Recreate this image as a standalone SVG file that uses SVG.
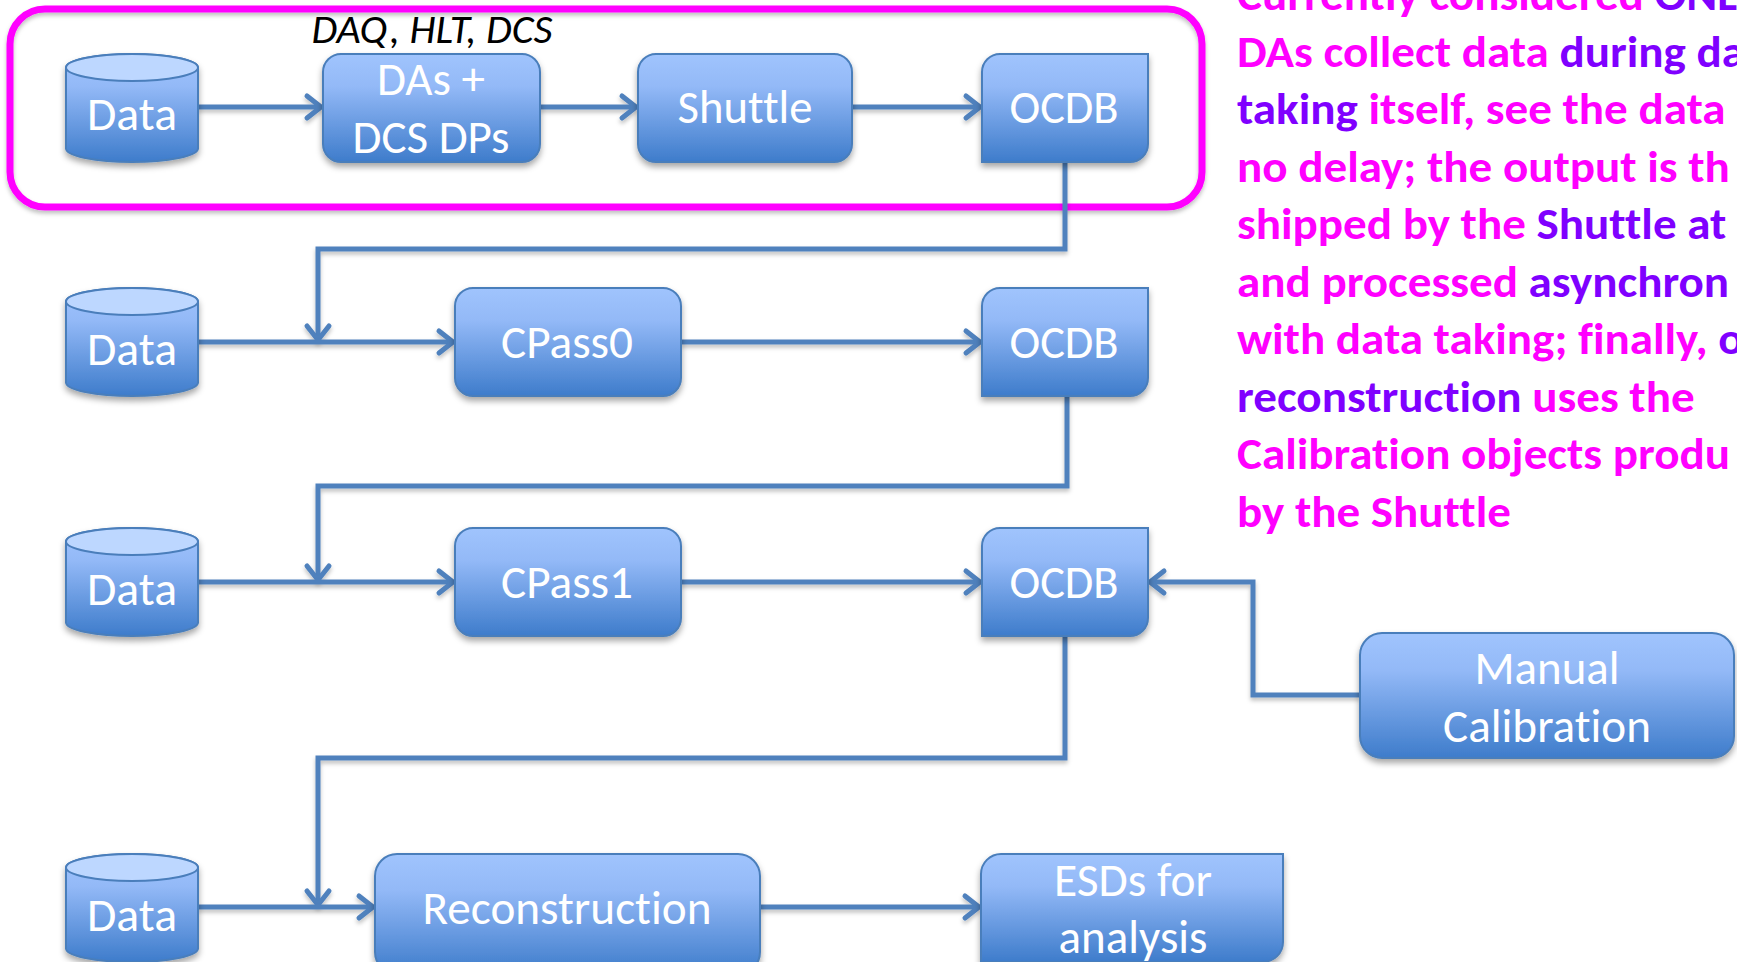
<svg xmlns="http://www.w3.org/2000/svg" width="1737" height="962" viewBox="0 0 1737 962">
<style>
.box{fill:url(#g);stroke:#4A7EBB;stroke-width:2;filter:url(#sh)}
.cap{fill:#BDD7FF;stroke:#4A7EBB;stroke-width:2}
.lbl{font-family:Carlito,Lato,"Liberation Sans",sans-serif;font-size:47px;fill:#fff;text-anchor:middle;font-variant-ligatures:none}
.con{fill:none;stroke:#4F81BD;stroke-width:5;filter:url(#sl)}
.arr{marker-end:url(#ah)}
.note{font-family:Carlito,Lato,"Liberation Sans",sans-serif;font-size:44px;font-weight:bold;font-variant-ligatures:none}
.m{fill:#FF00FF}
.p{fill:#7F00FF}
</style>
<defs>
<linearGradient id="g" x1="0" y1="0" x2="0" y2="1">
<stop offset="0" stop-color="#A0C4FD"/>
<stop offset="0.3" stop-color="#93B9F7"/>
<stop offset="1" stop-color="#3E7CCB"/>
</linearGradient>
<filter id="sh" x="-10%" y="-10%" width="120%" height="130%">
<feDropShadow dx="0" dy="4" stdDeviation="3" flood-color="#000" flood-opacity="0.35"/>
</filter>
<filter id="sl" filterUnits="userSpaceOnUse" x="0" y="0" width="1737" height="962">
<feDropShadow dx="0" dy="3" stdDeviation="2" flood-color="#000" flood-opacity="0.25"/>
</filter>
<marker id="ah" markerUnits="userSpaceOnUse" viewBox="-20 -16 26 32" markerWidth="26" markerHeight="32" refX="0" refY="0" orient="auto">
<path d="M-14,-11 L0,0 L-14,11" fill="none" stroke="#4F81BD" stroke-width="5" stroke-linecap="round" stroke-linejoin="round"/>
</marker>
</defs>

<rect id="frame" x="10" y="9" width="1192" height="198" rx="35" fill="none" stroke="#FF00FF" stroke-width="7" filter="url(#sl)"/>
<text id="daq" x="432" y="43" font-family="Carlito,Lato,'Liberation Sans',sans-serif" font-size="41" font-style="italic" fill="#000" text-anchor="middle" textLength="241" lengthAdjust="spacingAndGlyphs">DAQ, HLT, DCS</text>

<g id="connectors">
<path class="con arr" d="M198,107 H321"/>
<path class="con arr" d="M540,107 H636"/>
<path class="con arr" d="M852,107 H980"/>
<path class="con arr" d="M1065,162 V249 H318 V340"/>
<path class="con arr" d="M198,342 H453"/>
<path class="con arr" d="M681,342 H980"/>
<path class="con arr" d="M1067,396 V486 H318 V580"/>
<path class="con arr" d="M198,582 H453"/>
<path class="con arr" d="M681,582 H980"/>
<path class="con arr" d="M1360,695 H1253 V582 H1150"/>
<path class="con arr" d="M1065,636 V758 H318 V905"/>
<path class="con arr" d="M198,907 H373"/>
<path class="con arr" d="M760,907 H979"/>
</g>

<g id="data1">
<path class="box" d="M66,67.5 A66,13.5 0 0 1 198,67.5 V148.5 A66,13.5 0 0 1 66,148.5 Z"/>
<ellipse class="cap" cx="132" cy="67.5" rx="66" ry="13.5"/>
<text class="lbl" x="132" y="130" textLength="90" lengthAdjust="spacingAndGlyphs">Data</text>
</g>
<g id="das">
<rect class="box" x="323" y="54" width="217" height="108" rx="18"/>
<text class="lbl" x="431" y="95" textLength="108" lengthAdjust="spacingAndGlyphs">DAs +</text>
<text class="lbl" x="431" y="153" textLength="157" lengthAdjust="spacingAndGlyphs">DCS DPs</text>
</g>
<g id="shuttle">
<rect class="box" x="638" y="54" width="214" height="108" rx="18"/>
<text class="lbl" x="745" y="123" textLength="135" lengthAdjust="spacingAndGlyphs">Shuttle</text>
</g>
<g id="ocdb1">
<path class="box" d="M1000,54 H1148 V144 A18,18 0 0 1 1130,162 H982 V72 A18,18 0 0 1 1000,54 Z"/>
<text class="lbl" x="1064" y="123" textLength="109" lengthAdjust="spacingAndGlyphs">OCDB</text>
</g>

<g id="data2">
<path class="box" d="M66,301.5 A66,13.5 0 0 1 198,301.5 V382.5 A66,13.5 0 0 1 66,382.5 Z"/>
<ellipse class="cap" cx="132" cy="301.5" rx="66" ry="13.5"/>
<text class="lbl" x="132" y="365" textLength="90" lengthAdjust="spacingAndGlyphs">Data</text>
</g>
<g id="cpass0">
<rect class="box" x="455" y="288" width="226" height="108" rx="18"/>
<text class="lbl" x="567" y="358" textLength="132" lengthAdjust="spacingAndGlyphs">CPass0</text>
</g>
<g id="ocdb2">
<path class="box" d="M1000,288 H1148 V378 A18,18 0 0 1 1130,396 H982 V306 A18,18 0 0 1 1000,288 Z"/>
<text class="lbl" x="1064" y="358" textLength="109" lengthAdjust="spacingAndGlyphs">OCDB</text>
</g>

<g id="data3">
<path class="box" d="M66,541.5 A66,13.5 0 0 1 198,541.5 V622.5 A66,13.5 0 0 1 66,622.5 Z"/>
<ellipse class="cap" cx="132" cy="541.5" rx="66" ry="13.5"/>
<text class="lbl" x="132" y="605" textLength="90" lengthAdjust="spacingAndGlyphs">Data</text>
</g>
<g id="cpass1">
<rect class="box" x="455" y="528" width="226" height="108" rx="18"/>
<text class="lbl" x="567" y="598" textLength="132" lengthAdjust="spacingAndGlyphs">CPass1</text>
</g>
<g id="ocdb3">
<path class="box" d="M1000,528 H1148 V618 A18,18 0 0 1 1130,636 H982 V546 A18,18 0 0 1 1000,528 Z"/>
<text class="lbl" x="1064" y="598" textLength="109" lengthAdjust="spacingAndGlyphs">OCDB</text>
</g>
<g id="manual">
<rect class="box" x="1360" y="633" width="374" height="125" rx="22"/>
<text class="lbl" x="1547" y="684" textLength="145" lengthAdjust="spacingAndGlyphs">Manual</text>
<text class="lbl" x="1547" y="742" textLength="208" lengthAdjust="spacingAndGlyphs">Calibration</text>
</g>

<g id="data4">
<path class="box" d="M66,867.5 A66,13.5 0 0 1 198,867.5 V948.5 A66,13.5 0 0 1 66,948.5 Z"/>
<ellipse class="cap" cx="132" cy="867.5" rx="66" ry="13.5"/>
<text class="lbl" x="132" y="931" textLength="90" lengthAdjust="spacingAndGlyphs">Data</text>
</g>
<g id="reco">
<rect class="box" x="375" y="854" width="385" height="120" rx="22"/>
<text class="lbl" x="567" y="924" textLength="289" lengthAdjust="spacingAndGlyphs">Reconstruction</text>
</g>
<g id="esds">
<path class="box" d="M1001,854 H1283 V942 A20,20 0 0 1 1263,962 H981 V874 A20,20 0 0 1 1001,854 Z"/>
<text class="lbl" x="1133" y="896" textLength="158" lengthAdjust="spacingAndGlyphs">ESDs for</text>
<text class="lbl" x="1133" y="953" textLength="149" lengthAdjust="spacingAndGlyphs">analysis</text>
</g>

<g id="note" class="note" transform="translate(1237,0) scale(1.07,1)">
<text x="0" y="9.5"><tspan class="m">Currently considered </tspan><tspan class="p">ONL</tspan></text>
<text x="0" y="67"><tspan class="m">DAs collect data </tspan><tspan class="p">during da</tspan></text>
<text x="0" y="124.5"><tspan class="p">taking </tspan><tspan class="m">itself, see the data</tspan></text>
<text x="0" y="182"><tspan class="m">no delay; the output is th</tspan></text>
<text x="0" y="239.5"><tspan class="m">shipped by the </tspan><tspan class="p">Shuttle at</tspan></text>
<text x="0" y="297"><tspan class="m">and processed </tspan><tspan class="p">asynchron</tspan></text>
<text x="0" y="354.5"><tspan class="m">with data taking; finally, </tspan><tspan class="p">o</tspan></text>
<text x="0" y="412"><tspan class="p">reconstruction </tspan><tspan class="m">uses the</tspan></text>
<text x="0" y="469.5"><tspan class="m">Calibration objects produ</tspan></text>
<text x="0" y="527"><tspan class="m">by the Shuttle</tspan></text>
</g>
</svg>
